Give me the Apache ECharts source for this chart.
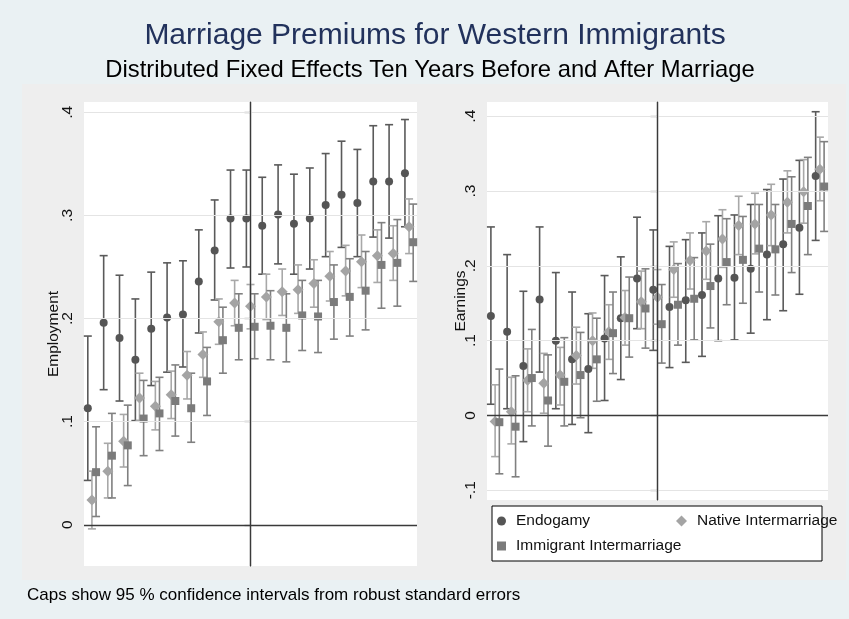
<!DOCTYPE html>
<html>
<head>
<meta charset="utf-8">
<title>Marriage Premiums for Western Immigrants</title>
<script src="https://cdn.jsdelivr.net/npm/echarts@6/dist/echarts.min.js"></script>
<style>
  html, body { margin: 0; padding: 0; background: #EAF1F3; }
  #chart { width: 849px; height: 619px; }
</style>
</head>
<body>
<div id="chart"></div>
<script>
// Event time relative to marriage (years)
const years = [-10, -9, -8, -7, -6, -5, -4, -3, -2, -1, 0, 1, 2, 3, 4, 5, 6, 7, 8, 9, 10];

// Employment: point estimates and 95% CI bounds
const endoEmp   = [0.113, 0.196, 0.181, 0.160, 0.190, 0.201, 0.204, 0.236, 0.266, 0.297, 0.297, 0.290, 0.301, 0.292, 0.297, 0.310, 0.320, 0.312, 0.333, 0.333, 0.341];
const endoEmpLo = [0.043, 0.131, 0.120, 0.101, 0.135, 0.148, 0.153, 0.186, 0.218, 0.249, 0.250, 0.243, 0.253, 0.243, 0.248, 0.260, 0.269, 0.260, 0.279, 0.278, 0.289];
const endoEmpHi = [0.183, 0.261, 0.242, 0.219, 0.245, 0.254, 0.256, 0.286, 0.315, 0.344, 0.344, 0.337, 0.349, 0.340, 0.346, 0.360, 0.372, 0.364, 0.387, 0.388, 0.393];

const natEmp    = [0.024, 0.052, 0.081, 0.123, 0.115, 0.126, 0.145, 0.165, 0.197, 0.215, 0.212, 0.221, 0.226, 0.228, 0.234, 0.241, 0.246, 0.255, 0.261, 0.263, 0.289];
const natEmpLo  = [-0.004, 0.026, 0.056, 0.101, 0.092, 0.103, 0.122, 0.143, 0.175, 0.193, 0.190, 0.199, 0.203, 0.205, 0.211, 0.217, 0.222, 0.230, 0.235, 0.237, 0.263];
const natEmpHi  = [0.052, 0.079, 0.107, 0.147, 0.139, 0.149, 0.168, 0.187, 0.219, 0.237, 0.233, 0.243, 0.248, 0.252, 0.257, 0.265, 0.271, 0.281, 0.286, 0.290, 0.316];

const immEmp    = [0.051, 0.067, 0.077, 0.103, 0.108, 0.120, 0.113, 0.139, 0.179, 0.191, 0.192, 0.193, 0.191, 0.203, 0.202, 0.216, 0.221, 0.227, 0.252, 0.254, 0.274];
const immEmpLo  = [0.008, 0.026, 0.038, 0.067, 0.072, 0.086, 0.080, 0.106, 0.147, 0.160, 0.161, 0.160, 0.158, 0.169, 0.167, 0.180, 0.183, 0.189, 0.210, 0.212, 0.236];
const immEmpHi  = [0.095, 0.108, 0.116, 0.140, 0.143, 0.155, 0.147, 0.172, 0.211, 0.224, 0.224, 0.227, 0.224, 0.237, 0.237, 0.252, 0.258, 0.265, 0.293, 0.296, 0.311];

// Earnings: point estimates and 95% CI bounds
const endoEarn   = [0.133, 0.112, 0.066, 0.155, 0.100, 0.075, 0.062, 0.103, 0.130, 0.183, 0.168, 0.145, 0.154, 0.161, 0.183, 0.184, 0.196, 0.215, 0.229, 0.251, 0.320];
const endoEarnLo = [0.015, 0.009, -0.035, 0.058, 0.009, -0.012, -0.023, 0.020, 0.048, 0.116, 0.087, 0.064, 0.071, 0.079, 0.100, 0.101, 0.110, 0.128, 0.140, 0.162, 0.234];
const endoEarnHi = [0.252, 0.215, 0.166, 0.252, 0.191, 0.165, 0.136, 0.187, 0.212, 0.265, 0.248, 0.226, 0.235, 0.244, 0.267, 0.268, 0.282, 0.302, 0.316, 0.341, 0.406];

const natEarn    = [-0.008, 0.005, 0.047, 0.043, 0.054, 0.080, 0.100, 0.112, 0.131, 0.152, 0.158, 0.195, 0.207, 0.220, 0.236, 0.254, 0.256, 0.268, 0.285, 0.299, 0.329];
const natEarnLo  = [-0.055, -0.038, 0.005, 0.003, 0.014, 0.042, 0.063, 0.075, 0.094, 0.116, 0.122, 0.158, 0.169, 0.182, 0.198, 0.215, 0.216, 0.227, 0.244, 0.257, 0.287];
const natEarnHi  = [0.041, 0.051, 0.089, 0.083, 0.091, 0.118, 0.137, 0.148, 0.167, 0.193, 0.195, 0.232, 0.244, 0.259, 0.275, 0.293, 0.297, 0.309, 0.327, 0.342, 0.372];

const immEarn    = [-0.009, -0.015, 0.050, 0.020, 0.045, 0.054, 0.075, 0.110, 0.130, 0.143, 0.122, 0.148, 0.156, 0.173, 0.205, 0.208, 0.223, 0.222, 0.256, 0.280, 0.306];
const immEarnLo  = [-0.078, -0.082, -0.014, -0.041, -0.014, -0.003, 0.019, 0.056, 0.078, 0.090, 0.070, 0.094, 0.101, 0.117, 0.148, 0.150, 0.165, 0.161, 0.191, 0.215, 0.246];
const immEarnHi  = [0.062, 0.053, 0.115, 0.081, 0.104, 0.111, 0.130, 0.165, 0.185, 0.196, 0.175, 0.203, 0.211, 0.229, 0.263, 0.266, 0.282, 0.282, 0.319, 0.345, 0.366];

// Y-axis tick values for each panel
const empTicks  = [0, 0.1, 0.2, 0.3, 0.4];
const earnTicks = [-0.1, 0, 0.1, 0.2, 0.3, 0.4];

// Series names
const groupNames = ['Endogamy', 'Native Intermarriage', 'Immigrant Intermarriage'];

const FONT = '"Liberation Sans", Arial, Helvetica, sans-serif';
const styles = {
  'Endogamy':               { color: '#555555', bar: '#5A5A5A', symbol: 'circle',  size: 8,  shift: -0.26 },
  'Native Intermarriage':   { color: '#A4A4A4', bar: '#A8A8A8', symbol: 'diamond', size: 11, shift: 0 },
  'Immigrant Intermarriage':{ color: '#7B7B7B', bar: '#808080', symbol: 'rect',    size: 8,  shift: 0.26 }
};

// Stata-style tick labels: .1, 0, -.1
function stataLabel(v) {
  if (Math.abs(v) < 1e-9) return '0';
  return String(+v.toFixed(2)).replace('0.', '.');
}

function pointData(shift, vals) {
  return years.map((y, i) => [y + shift, vals[i]]);
}
function ciData(shift, lo, hi) {
  return years.map((y, i) => [y + shift, lo[i], hi[i]]);
}

function errorBarRenderer(color) {
  return function (params, api) {
    const x = api.value(0);
    const pLo = api.coord([x, api.value(1)]);
    const pHi = api.coord([x, api.value(2)]);
    const w = 4;
    const st = { stroke: color, lineWidth: 1.6 };
    return {
      type: 'group',
      children: [
        { type: 'line', shape: { x1: pLo[0], y1: pLo[1], x2: pHi[0], y2: pHi[1] }, style: st },
        { type: 'line', shape: { x1: pLo[0] - w, y1: pLo[1], x2: pLo[0] + w, y2: pLo[1] }, style: st },
        { type: 'line', shape: { x1: pHi[0] - w, y1: pHi[1], x2: pHi[0] + w, y2: pHi[1] }, style: st }
      ]
    };
  };
}

function panelSeries(axisIdx, ticks, sets) {
  const out = [];
  // light horizontal gridlines
  out.push({
    type: 'scatter', xAxisIndex: axisIdx, yAxisIndex: axisIdx, data: [], z: 1, silent: true,
    markLine: {
      silent: true, symbol: ['none', 'none'], label: { show: false },
      lineStyle: { color: '#E4E4E4', width: 1, type: 'solid' },
      data: ticks.map(v => ({ yAxis: v }))
    }
  });
  // reference lines at zero and at the year of marriage
  out.push({
    type: 'scatter', xAxisIndex: axisIdx, yAxisIndex: axisIdx, data: [], z: 2, silent: true,
    markLine: {
      silent: true, symbol: ['none', 'none'], label: { show: false },
      lineStyle: { color: '#3A3A3A', width: 1.3, type: 'solid' },
      data: [{ yAxis: 0 }, { xAxis: 0 }]
    }
  });
  sets.forEach(s => {
    const st = styles[s.name];
    out.push({
      type: 'custom', name: s.name + ' CI', xAxisIndex: axisIdx, yAxisIndex: axisIdx, z: 3,
      renderItem: errorBarRenderer(st.bar),
      encode: { x: 0, y: [1, 2] },
      data: ciData(st.shift, s.lo, s.hi), silent: true
    });
  });
  sets.forEach(s => {
    const st = styles[s.name];
    out.push({
      type: 'scatter', name: s.name, xAxisIndex: axisIdx, yAxisIndex: axisIdx, z: 4,
      symbol: st.symbol, symbolSize: st.size,
      itemStyle: { color: st.color, opacity: 1 },
      data: pointData(st.shift, s.vals)
    });
  });
  return out;
}

const series = [].concat(
  panelSeries(0, empTicks, [
    { name: groupNames[0], vals: endoEmp, lo: endoEmpLo, hi: endoEmpHi },
    { name: groupNames[1], vals: natEmp,  lo: natEmpLo,  hi: natEmpHi },
    { name: groupNames[2], vals: immEmp,  lo: immEmpLo,  hi: immEmpHi }
  ]),
  panelSeries(1, earnTicks, [
    { name: groupNames[0], vals: endoEarn, lo: endoEarnLo, hi: endoEarnHi },
    { name: groupNames[1], vals: natEarn,  lo: natEarnLo,  hi: natEarnHi },
    { name: groupNames[2], vals: immEarn,  lo: immEarnLo,  hi: immEarnHi }
  ])
);

function yAxisDef(gridIndex, name, min, max, ticks, nameGap, labelMargin, tickLen) {
  return {
    type: 'value', gridIndex, min, max,
    name, nameLocation: 'middle', nameRotate: 90, nameGap, nameMoveOverlap: false,
    nameTextStyle: { fontFamily: FONT, fontSize: 15.5, color: '#111111' },
    axisLine: { show: true, lineStyle: { color: '#404040', width: 1.2 } },
    axisTick: { show: true, customValues: ticks, length: tickLen, lineStyle: { color: '#404040', width: 1.2 } },
    axisLabel: {
      customValues: ticks, rotate: 90, margin: labelMargin,
      formatter: stataLabel, fontFamily: FONT, fontSize: 15.5, color: '#111111'
    },
    splitLine: { show: false }
  };
}

function xAxisDef(gridIndex) {
  return {
    type: 'value', gridIndex, min: -10.5, max: 10.5, show: false,
    splitLine: { show: false }
  };
}

const legendText = { fontFamily: FONT, fontSize: 15.5, color: '#111111', padding: [0, 0, 0, 5] };
function legendDef(name, icon, left, top, size) {
  return {
    data: [{ name, icon }], left, top, padding: 0,
    itemWidth: size, itemHeight: size, selectedMode: false,
    textStyle: legendText
  };
}

const option = {
  animation: false,
  backgroundColor: '#EAF1F3',
  title: [
    {
      text: 'Marriage Premiums for Western Immigrants', left: 435, top: 21, textAlign: 'center', padding: 0,
      textStyle: { fontFamily: FONT, fontSize: 30, fontWeight: 'normal', color: '#22325C' }
    },
    {
      text: 'Distributed Fixed Effects Ten Years Before and After Marriage', left: 430, top: 58, textAlign: 'center', padding: 0,
      textStyle: { fontFamily: FONT, fontSize: 23.8, fontWeight: 'normal', color: '#000000' }
    },
    {
      text: 'Caps show 95 % confidence intervals from robust standard errors', left: 27, top: 587, padding: 0,
      textStyle: { fontFamily: FONT, fontSize: 17, fontWeight: 'normal', color: '#000000' }
    }
  ],
  graphic: [
    { type: 'rect', z: -10, silent: true, shape: { x: 22, y: 84, width: 824, height: 496 }, style: { fill: '#EEEEEE' } },
    { type: 'rect', z: -5, silent: true, shape: { x: 492, y: 506, width: 330, height: 55 }, style: { fill: '#FFFFFF', stroke: '#000000', lineWidth: 1 } }
  ],
  legend: [
    legendDef(groupNames[0], 'circle', 497, 513, 9),
    legendDef(groupNames[1], 'diamond', 676, 513, 11),
    legendDef(groupNames[2], 'rect', 497, 538, 9)
  ],
  grid: [
    { left: 84, top: 102, width: 333, height: 464, show: true, backgroundColor: '#FFFFFF', borderWidth: 0 },
    { left: 487, top: 102, width: 341, height: 398, show: true, backgroundColor: '#FFFFFF', borderWidth: 0 }
  ],
  xAxis: [xAxisDef(0), xAxisDef(1)],
  yAxis: [
    yAxisDef(0, 'Employment', -0.04, 0.41, empTicks, 22, 8, 6),
    yAxisDef(1, 'Earnings', -0.113, 0.419, earnTicks, 18, 8, 7)
  ],
  series
};

const chart = echarts.init(document.getElementById('chart'), null, { renderer: 'canvas' });
chart.setOption(option);
</script>
</body>
</html>
